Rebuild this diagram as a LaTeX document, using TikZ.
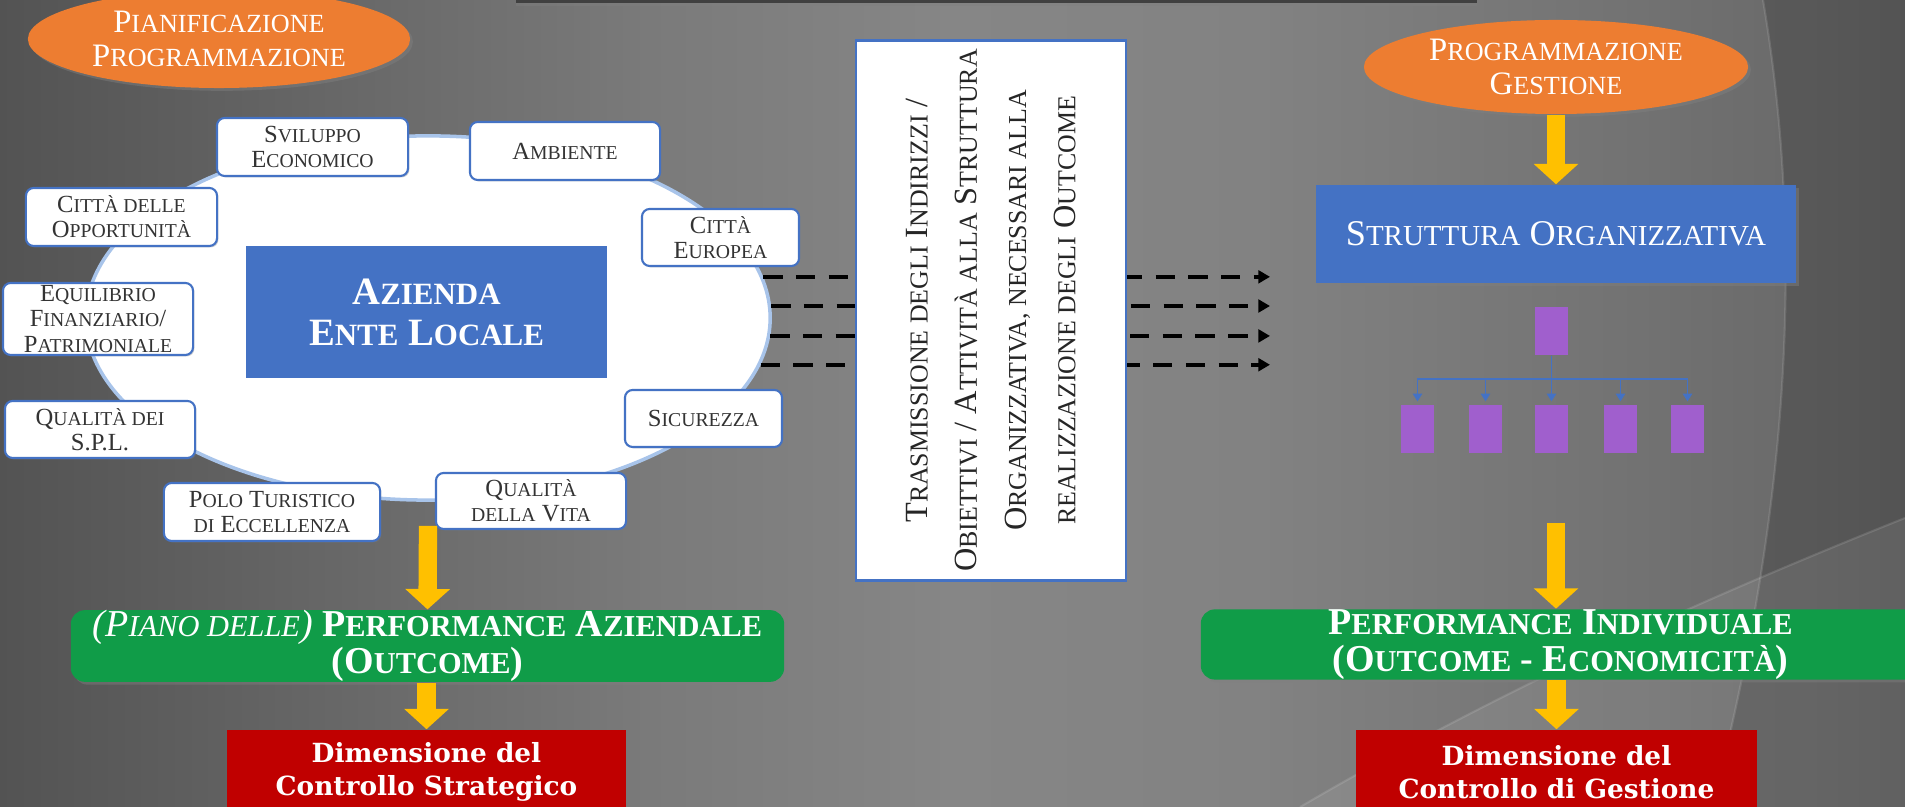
\documentclass[tikz,border=0pt]{standalone}
\usepackage{graphicx}
\usepackage{fontspec}
\setmainfont{Liberation Serif}
\newfontfamily\dvs{DejaVu Serif}
\usetikzlibrary{shapes.geometric,arrows.meta,shadows}
\newcommand\sk[1]{\scalebox{0.8}{#1}}
\definecolor{orng}{HTML}{ED7D31}
\definecolor{blu}{HTML}{4472C4}
\definecolor{grn}{HTML}{109C48}
\definecolor{redd}{HTML}{C00000}
\definecolor{yel}{HTML}{FFC000}
\definecolor{purp}{HTML}{A05FCD}
\definecolor{ellb}{HTML}{A8C4EA}
\definecolor{g0}{HTML}{161616}
\definecolor{g1}{HTML}{2C2C2C}
\definecolor{g2}{HTML}{4A4A4A}
\definecolor{g3}{HTML}{636363}
\definecolor{g4}{HTML}{7A7A7A}
\definecolor{g5}{HTML}{868686}
\definecolor{g6}{HTML}{828282}
\definecolor{g7}{HTML}{727272}
\definecolor{g8}{HTML}{5E5E5E}
\definecolor{g9}{HTML}{4C4C4C}
\definecolor{g10}{HTML}{3E3E3E}
\pgfdeclarehorizontalshading{bgsh}{100bp}{color(0bp)=(g0); color(10bp)=(g1); color(21bp)=(g2); color(32bp)=(g3); color(42bp)=(g4); color(50bp)=(g5); color(58bp)=(g6); color(68bp)=(g7); color(79bp)=(g8); color(89bp)=(g9); color(100bp)=(g10)}
\begin{document}
\begin{tikzpicture}[x=0.01cm,y=-0.01cm,
  sbox/.style={draw=blu, line width=0.6pt, fill=white, rounded corners=2.2pt, inner sep=0pt, align=center, text=black!80, font=\fontsize{7}{7.2}\selectfont, drop shadow={shadow xshift=0.4pt, shadow yshift=-0.4pt, opacity=0.35}},
  orell/.style={ellipse, fill=orng, inner sep=0pt, text=white, align=center, font=\fontsize{9.3}{9.6}\selectfont, drop shadow={shadow xshift=0.8pt, shadow yshift=-0.8pt, opacity=0.45}},
  yarrow/.style={draw=yel, line width=5.2pt, -{Triangle[length=5.8pt,width=12.4pt]}},
  grbox/.style={fill=grn, rounded corners=4pt, text=white, align=center, font=\bfseries\fontsize{10.8}{10.6}\selectfont, inner sep=0pt, drop shadow={shadow xshift=0.8pt, shadow yshift=-0.8pt, opacity=0.45}},
  rdbox/.style={fill=redd, text=white, align=center, font=\dvs\bfseries\fontsize{7.5}{9.5}\selectfont, inner sep=0pt},
  bluebox/.style={fill=blu, inner sep=0pt, text=white, align=center},
  orgbox/.style={fill=purp, minimum width=0.33cm, minimum height=0.48cm, inner sep=0pt},
  orgl/.style={draw=blu, line width=0.5pt, -{Triangle[length=2.2pt,width=2.6pt]}},
  dar/.style={black, line width=1.15pt, dash pattern=on 5.5pt off 3.8pt, -{Triangle[length=3.3pt,width=3.6pt]}}
]
\useasboundingbox (0,0) rectangle (1905,807);
\clip (0,0) rectangle (1905,807);
% background
\shade[shading=bgsh] (0,0) rectangle (1905,807);
\fill[black, opacity=0.17] (1763,0) .. controls (1797,200) and (1802,460) .. (1712,807) -- (1905,807) -- (1905,0) -- cycle;
\draw[white, opacity=0.12, line width=0.6pt] (1763,0) .. controls (1797,200) and (1802,460) .. (1712,807);
\fill[white, opacity=0.08] (1905,518) .. controls (1700,600) and (1500,690) .. (1300,807) -- (1905,807) -- cycle;
\draw[white, opacity=0.12, line width=0.6pt] (1905,518) .. controls (1700,600) and (1500,690) .. (1300,807);
\fill[black!75, drop shadow={shadow xshift=0pt, shadow yshift=-0.8pt, opacity=0.4}] (516,-5) rectangle (1477,3);

% left part
\node[orell, minimum width=3.82cm, minimum height=0.98cm] (ell1) at (219,39) {P\sk{IANIFICAZIONE}\\P\sk{ROGRAMMAZIONE}};
\node[ellipse, draw=ellb, line width=1pt, fill=white, minimum width=6.84cm, minimum height=3.64cm, inner sep=0pt] (big) at (428,318) {};
\node[bluebox, minimum width=3.61cm, minimum height=1.32cm, font=\bfseries\fontsize{11}{11.7}\selectfont] (az) at (426.5,312) {A\sk{ZIENDA}\\E\sk{NTE} L\sk{OCALE}};

\node[sbox, minimum width=1.91cm, minimum height=0.58cm] (svil) at (312.5,147) {S\sk{VILUPPO}\\E\sk{CONOMICO}};
\node[sbox, minimum width=1.90cm, minimum height=0.58cm] (amb) at (565,151) {A\sk{MBIENTE}};
\node[sbox, minimum width=1.91cm, minimum height=0.58cm] (cdo) at (121.5,217) {C\sk{ITTÀ DELLE}\\O\sk{PPORTUNITÀ}};
\node[sbox, minimum width=1.57cm, minimum height=0.57cm] (ceu) at (720.5,237.5) {C\sk{ITTÀ}\\E\sk{UROPEA}};
\node[sbox, minimum width=1.90cm, minimum height=0.72cm] (equ) at (98,319) {E\sk{QUILIBRIO}\\F\sk{INANZIARIO}/\\P\sk{ATRIMONIALE}};
\node[sbox, minimum width=1.90cm, minimum height=0.57cm] (qspl) at (100,429.5) {Q\sk{UALITÀ DEI}\\S.P.L.};
\node[sbox, minimum width=1.57cm, minimum height=0.57cm] (sic) at (703.5,418.5) {S\sk{ICUREZZA}};
\node[sbox, minimum width=2.16cm, minimum height=0.58cm] (polo) at (272,512) {P\sk{OLO} T\sk{URISTICO}\\\sk{DI} E\sk{CCELLENZA}};
\node[sbox, minimum width=1.90cm, minimum height=0.56cm] (qvita) at (531,501) {Q\sk{UALITÀ}\\\sk{DELLA} V\sk{ITA}};

\node[grbox, minimum width=7.13cm, minimum height=0.70cm] (pgl) at (427.5,646) {{\itshape\mdseries (P\sk{IANO DELLE})} P\sk{ERFORMANCE} A\sk{ZIENDALE}\\(O\sk{UTCOME})};
\node[rdbox, minimum width=3.99cm, minimum height=0.84cm] (rsl) at (426.5,772) {Dimensione del\\Controllo Strategico};
\draw[yarrow] ([yshift=-0.24cm]big.south) -- (pgl.north);
\draw[yarrow] (rsl.north |- pgl.south) -- (rsl.north);

% dashed connectors
\coordinate (xend) at (1270,0);
\draw[dar] (big.7.64) -- (big.7.64 -| xend);
\draw[dar] (big.2.18) -- (big.2.18 -| xend);
\draw[dar] (big.-3.11) -- (big.-3.11 -| xend);
\draw[dar] (big.-8.65) -- (big.-8.65 -| xend);

% middle box
\node[draw=blu, line width=0.8pt, fill=white, minimum width=2.70cm, minimum height=5.39cm, inner sep=0pt] (mid) at (991,310.5) {};
\node[rotate=90, align=center, text=black!85, font=\fontsize{9.2}{14}\selectfont] (midtxt) at (mid.center) {T\sk{RASMISSIONE DEGLI} I\sk{NDIRIZZI} /\\O\sk{BIETTIVI} / A\sk{TTIVITÀ ALLA} S\sk{TRUTTURA}\\O\sk{RGANIZZATIVA, NECESSARI ALLA}\\\sk{REALIZZAZIONE DEGLI} O\sk{UTCOME}};

% right part
\node[orell, minimum width=3.84cm, minimum height=0.94cm] (ell2) at (1556,67) {P\sk{ROGRAMMAZIONE}\\G\sk{ESTIONE}};
\node[bluebox, minimum width=4.80cm, minimum height=0.98cm, font=\fontsize{10.3}{11}\selectfont, drop shadow={shadow xshift=0.8pt, shadow yshift=-0.8pt, opacity=0.45}] (struct) at (1556,234) {S\sk{TRUTTURA} O\sk{RGANIZZATIVA}};
\draw[yarrow] (ell2.south) -- (struct.north);

\node[orgbox] (top) at (1551.5,331) {};
\node[orgbox] (c1) at (1417.5,429) {};
\node[orgbox] (c2) at (1485.5,429) {};
\node[orgbox] (c3) at (1551.5,429) {};
\node[orgbox] (c4) at (1620.5,429) {};
\node[orgbox] (c5) at (1687.5,429) {};
\coordinate (bus) at (0,379);
\foreach \c in {c1,c2,c3,c4,c5}
  \draw[orgl] (top.south) -- (top.south |- bus) -| ([yshift=0.8pt]\c.north);

\coordinate (ya) at (1556,523);
\node[grbox, minimum width=7.19cm, minimum height=0.69cm] (pgr) at (1560.5,644.5) {P\sk{ERFORMANCE} I\sk{NDIVIDUALE}\\(O\sk{UTCOME} - E\sk{CONOMICITÀ})};
\node[rdbox, minimum width=4.01cm, minimum height=0.84cm] (rsr) at (1556.5,772) {Dimensione del\\Controllo di Gestione};
\draw[yarrow] (ya) -- (ya |- pgr.north);
\draw[yarrow] (rsr.north |- pgr.south) -- (rsr.north);
\end{tikzpicture}
\end{document}
